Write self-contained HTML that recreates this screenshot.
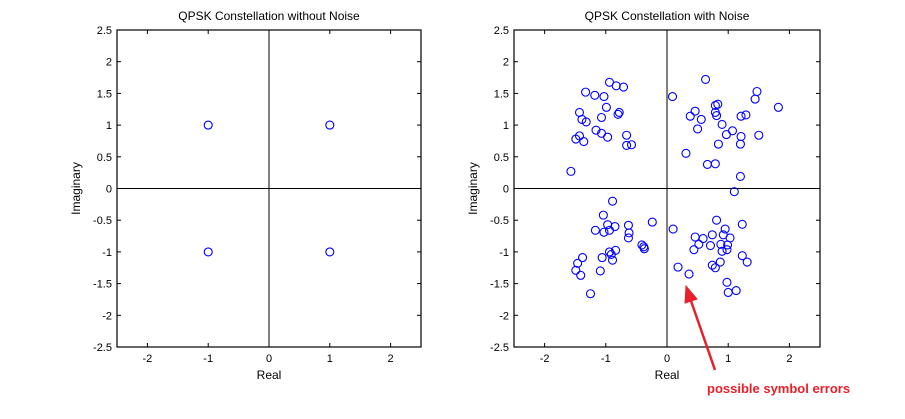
<!DOCTYPE html>
<html><head><meta charset="utf-8"><style>
html,body{margin:0;padding:0;background:#fff;}
svg{display:block;font-family:"Liberation Sans",sans-serif;}
</style></head><body>
<svg id="chart" width="905" height="419" xmlns="http://www.w3.org/2000/svg"></svg>
<script>
const tickVals = [-2.5,-2,-1.5,-1,-0.5,0,0.5,1,1.5,2,2.5];
const xTickVals = [-2,-1,0,1,2];
const cleanX = [-1,1,-1,1];
const cleanY = [1,1,-1,-1];
const noisyX = [-0.94,-0.83,-0.71,-1.33,-1.18,-1.03,-0.99,-1.43,-0.78,-0.80,-1.07,-1.39,-1.32,-1.16,-1.07,-0.97,-0.66,-1.43,-1.49,-1.36,-0.66,-0.58,-1.57,
0.09,0.63,1.47,1.44,1.82,0.79,0.83,0.46,0.38,0.56,0.79,0.81,1.21,1.29,0.50,0.90,1.07,0.97,1.21,1.50,0.84,1.20,0.31,0.66,0.79,1.20,1.10,
-0.89,-1.04,-0.24,-0.63,-0.97,-0.85,-1.17,-1.03,-0.94,-0.62,-0.63,-0.41,-0.38,-0.37,-0.94,-0.84,-0.91,-0.89,-1.06,-1.38,-1.46,-1.49,-1.41,-1.09,-1.25,
0.10,0.81,1.23,0.95,0.46,0.59,0.74,0.92,1.03,0.52,0.71,0.88,0.99,0.44,0.90,0.98,1.23,1.31,0.87,0.74,0.79,0.18,0.36,0.98,1.13,1.00];
const noisyY = [1.675,1.62,1.60,1.52,1.47,1.45,1.28,1.20,1.20,1.17,1.12,1.09,1.05,0.92,0.87,0.81,0.84,0.83,0.78,0.74,0.68,0.69,0.27,
1.45,1.72,1.53,1.41,1.28,1.31,1.33,1.22,1.14,1.09,1.20,1.15,1.14,1.16,0.94,1.01,0.91,0.85,0.82,0.84,0.70,0.70,0.555,0.38,0.39,0.19,-0.05,
-0.20,-0.42,-0.53,-0.58,-0.57,-0.60,-0.66,-0.69,-0.66,-0.70,-0.78,-0.89,-0.92,-0.95,-1.00,-0.975,-1.04,-1.13,-1.09,-1.09,-1.18,-1.29,-1.37,-1.30,-1.66,
-0.64,-0.50,-0.565,-0.64,-0.765,-0.79,-0.73,-0.73,-0.78,-0.88,-0.90,-0.88,-0.89,-0.965,-0.99,-0.965,-1.06,-1.16,-1.16,-1.21,-1.25,-1.24,-1.35,-1.48,-1.61,-1.64];

const NS="http://www.w3.org/2000/svg";
const svg=document.getElementById('chart');
function mk(tag,attrs,parent){const e=document.createElementNS(NS,tag);for(const k in attrs)e.setAttribute(k,attrs[k]);(parent||svg).appendChild(e);return e;}

function panel(left,right,top,bottom,title,xs,ys,prefix){
  const g=mk('g',{});
  
  
  const sx=v=>left+(v+2.5)/5*(right-left);
  const sy=v=>bottom-(v+2.5)/5*(bottom-top);
  mk('rect',{x:left,y:top,width:right-left,height:bottom-top,fill:'#fff',stroke:'#000','stroke-width':1.2},g);
  const yl=mk('g',{},g);
  
  
  tickVals.forEach(v=>{
    const y=sy(v);
    mk('line',{x1:left,x2:left+4,y1:y,y2:y,stroke:'#000'},yl);
    mk('line',{x1:right,x2:right-4,y1:y,y2:y,stroke:'#000'},yl);
    const t=mk('text',{x:left-5,y:y+4,'text-anchor':'end','font-size':11},yl);t.textContent=String(v);
  });
  const xl=mk('g',{},g);
  
  
  xTickVals.forEach(v=>{
    const x=sx(v);
    mk('line',{x1:x,x2:x,y1:bottom,y2:bottom-4,stroke:'#000'},xl);
    mk('line',{x1:x,x2:x,y1:top,y2:top+4,stroke:'#000'},xl);
    const t=mk('text',{x:x,y:bottom+15,'text-anchor':'middle','font-size':11},xl);t.textContent=String(v);
  });
  mk('line',{x1:sx(0),x2:sx(0),y1:top,y2:bottom,stroke:'#000'},g);
  mk('line',{x1:left,x2:right,y1:sy(0),y2:sy(0),stroke:'#000'},g);
  const tt=mk('text',{x:(left+right)/2,y:20,'text-anchor':'middle','font-size':12},g);tt.textContent=title;
  
  
  const xt=mk('text',{x:(left+right)/2,y:bottom+32,'text-anchor':'middle','font-size':12},g);xt.textContent='Real';
  
  
  const cy=(top+bottom)/2;
  const yt=mk('text',{x:left-37,y:cy,'text-anchor':'middle','font-size':12,transform:'rotate(-90 '+(left-37)+' '+cy+')'},g);yt.textContent='Imaginary';
  
  
  xs.forEach((v,i)=>{
    const c=mk('circle',{cx:sx(v),cy:sy(ys[i]),r:4,fill:'none',stroke:'#0000ff','stroke-width':1.1},g);
    
    
  });
}
panel(117,421,30,347,'QPSK Constellation without Noise',cleanX,cleanY,'clean');
panel(514,820,30,347,'QPSK Constellation with Noise',noisyX,noisyY,'noisy');

const arrow=mk('g',{});


mk('line',{x1:715,y1:370,x2:690,y2:298,stroke:'#e8202a','stroke-width':2.5},arrow);
mk('polygon',{points:'686,286 685,303 697,299',fill:'#e8202a',stroke:'#e8202a','stroke-width':1},arrow);
const lab=mk('text',{x:707,y:393,'font-size':13,'font-weight':'bold',fill:'#e8202a'});
lab.textContent='possible symbol errors';


</script>
</body></html>
